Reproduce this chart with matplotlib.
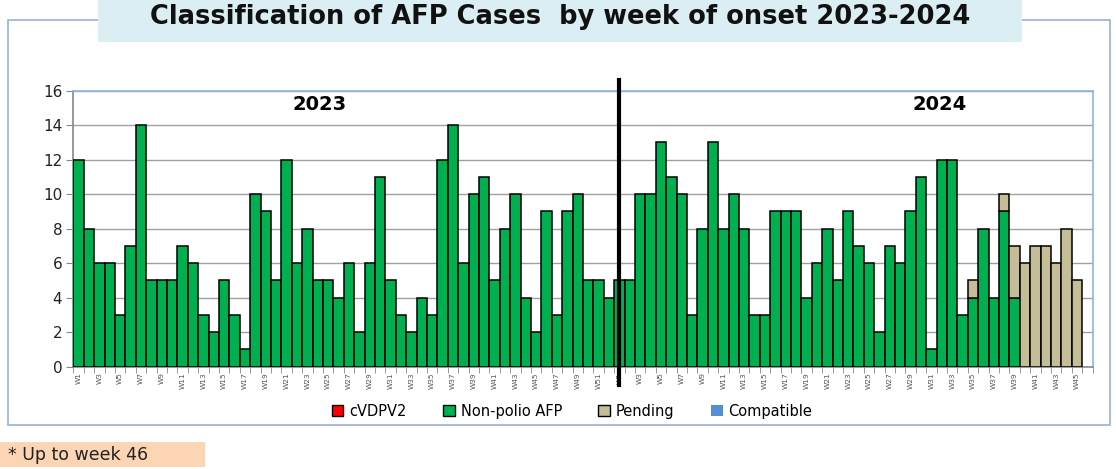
import numpy as np
import matplotlib
matplotlib.use("Agg")
import matplotlib.pyplot as plt
from matplotlib.patches import Rectangle, Patch

# weekly AFP cases, 2023 W1-W52 and 2024 W1-W46
nonpolio2023 = [12, 8, 6, 6, 3, 7, 14, 5, 5, 5, 7, 6, 3, 2, 5, 3, 1, 10, 9, 5,
                12, 6, 8, 5, 5, 4, 6, 2, 6, 11, 5, 3, 2, 4, 3, 12, 14, 6, 10, 11,
                5, 8, 10, 4, 2, 9, 3, 9, 10, 5, 5, 4]
pending2023 = [0] * 52
nonpolio2024 = [5, 5, 10, 10, 13, 11, 10, 3, 8, 13, 8, 10, 8, 3, 3, 9, 9, 9, 4, 6,
                8, 5, 9, 7, 6, 2, 7, 6, 9, 11, 1, 12, 12, 3, 4, 8, 4, 9, 4, 0,
                0, 0, 0, 0, 0, 0]
pending2024 = [0, 0, 0, 0, 0, 0, 0, 0, 0, 0, 0, 0, 0, 0, 0, 0, 0, 0, 0, 0,
               0, 0, 0, 0, 0, 0, 0, 0, 0, 0, 0, 0, 0, 0, 1, 0, 0, 1, 3, 6,
               7, 7, 6, 8, 5, 0]
weeks2023 = ["W" + str(i) for i in range(1, 53)]
weeks2024 = ["W" + str(i) for i in range(1, 47)]
legendNames = ["cVDPV2", "Non-polio AFP", "Pending", "Compatible"]
yTicks = [0, 2, 4, 6, 8, 10, 12, 14, 16]

GREEN = "#00B050"
TAN = "#C4BD97"
RED = "#FF0000"
BLUE = "#558ED5"
FRAME = "#95B3D7"

W, H = 1116, 469
fig = plt.figure(figsize=(W / 100, H / 100), dpi=100)
fig.patch.set_facecolor("white")

# outer chart frame
fig.patches.append(Rectangle((8 / W, 1 - 425 / H), (1110 - 8) / W, (425 - 20) / H,
                             transform=fig.transFigure, fill=False, edgecolor=FRAME, lw=1.2, zorder=1))
# title box
fig.patches.append(Rectangle((98 / W, 1 - 42 / H), (1022 - 98) / W, 42 / H,
                             transform=fig.transFigure, facecolor="#DAEEF3", edgecolor="none", zorder=2))
fig.text(560 / W, 1 - 17 / H, "Classification of AFP Cases  by week of onset 2023-2024",
         ha="center", va="center", fontsize=18.5, fontweight="bold", color="#111111", zorder=3)

ax = fig.add_axes([73.3 / W, 1 - 366.7 / H, (1092.7 - 73.3) / W, 276 / H])

green = np.array(nonpolio2023 + nonpolio2024)
pend = np.array(pending2023 + pending2024)
labels = weeks2023 + weeks2024
x = np.arange(len(green))

# only weeks with cases get a bar (no outline on empty weeks)
g = green > 0
p = pend > 0
ax.bar(x[g], green[g], width=1.0, color=GREEN, edgecolor="black", linewidth=1.1, zorder=3)
ax.bar(x[p], pend[p], width=1.0, bottom=green[p], color=TAN, edgecolor="black", linewidth=1.1, zorder=3)

ax.set_xlim(-0.5, len(x) - 0.5)
ax.set_ylim(0, 16)
ax.set_yticks(yTicks)
ax.set_yticklabels([str(t) for t in yTicks], fontsize=11, color="#222222")
ax.tick_params(axis="y", length=5, color="#888888", pad=3)
ax.yaxis.grid(True, color="#A0A0A0", lw=1.0, zorder=0)

# every other week labelled, small ticks at every bar boundary
ax.set_xticks(x[::2])
ax.set_xticklabels(labels[::2], rotation=90, fontsize=5.3, color="#555555")
ax.set_xticks(np.arange(-0.5, len(x), 1), minor=True)
ax.tick_params(axis="x", which="major", length=0, pad=4)
ax.tick_params(axis="x", which="minor", length=4, color="#888888")

for s in ["left", "bottom"]:
    ax.spines[s].set_color("#888888")
    ax.spines[s].set_linewidth(1.2)
for s in ["top", "right"]:
    ax.spines[s].set_color("#8DB4E2")
    ax.spines[s].set_linewidth(1.2)

# year divider and year labels
ax.axvline(len(nonpolio2023), ymin=-0.066, ymax=1.04, color="black", lw=3, clip_on=False, zorder=5)
ax.text(23.2, 15.2, "2023", ha="center", va="center", fontsize=14, fontweight="bold")
ax.text(82.8, 15.2, "2024", ha="center", va="center", fontsize=14, fontweight="bold")

handles = [Patch(facecolor=RED, edgecolor="black"), Patch(facecolor=GREEN, edgecolor="black"),
           Patch(facecolor=TAN, edgecolor="black"), Patch(facecolor=BLUE, edgecolor="none")]
fig.legend(handles, legendNames, loc="center", bbox_to_anchor=(572 / W, 1 - 411 / H), ncol=4,
           frameon=False, fontsize=10.5, handlelength=0.8, handleheight=0.8, handletextpad=0.4,
           columnspacing=2.5)

# footnote
fig.patches.append(Rectangle((0, 1 - 467 / H), 205 / W, 25 / H, transform=fig.transFigure,
                             facecolor="#FCD5B4", edgecolor="none", zorder=1))
fig.text(8 / W, 1 - 455 / H, "* Up to week 46", ha="left", va="center", fontsize=12.5,
         family=["Liberation Sans Narrow", "DejaVu Sans"], color="#222222")

fig.savefig("out.png", dpi=100)
